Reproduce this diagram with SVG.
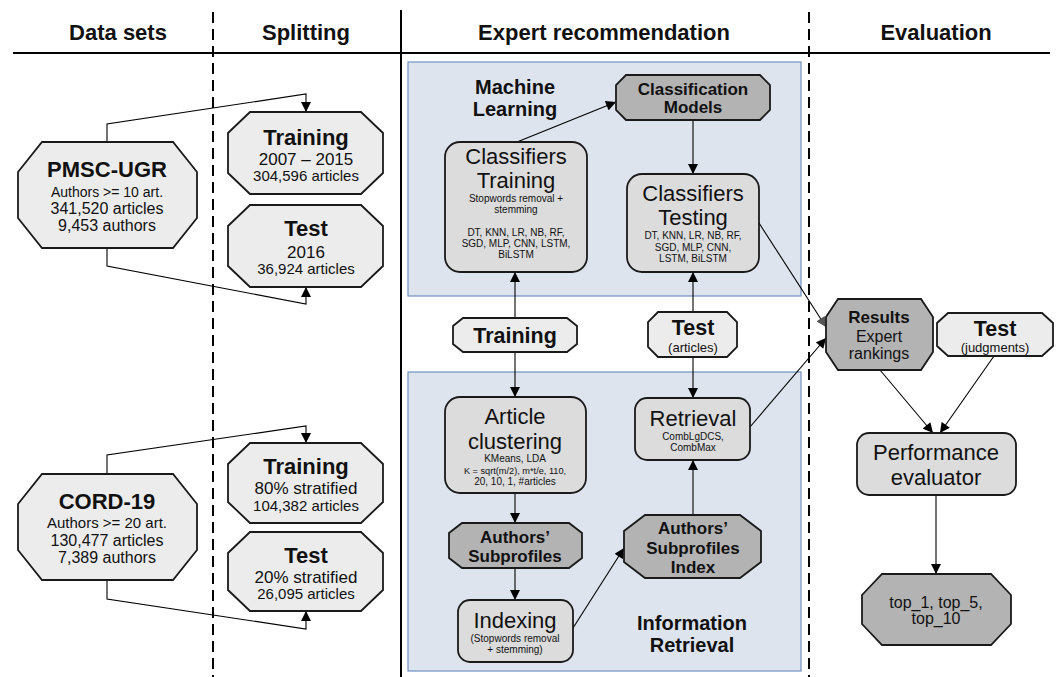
<svg xmlns="http://www.w3.org/2000/svg" width="1062" height="677" viewBox="0 0 1062 677">
  <style>
    text { font-family: "Liberation Sans", Arial, sans-serif; fill: #111; text-anchor: middle; }
    .hdr { font-size: 22px; font-weight: bold; }
    .b22 { font-size: 22px; font-weight: bold; }
    .b21 { font-size: 21.5px; font-weight: bold; }
    .b20 { font-size: 20px; font-weight: bold; }
    .b17 { font-size: 17px; font-weight: bold; }
    .r22 { font-size: 22px; }
    .r17 { font-size: 17px; }
    .r16 { font-size: 16px; }
    .r15 { font-size: 15px; }
    .r14 { font-size: 14px; }
    .r13 { font-size: 13px; }
    .r10 { font-size: 10px; }
    .light { fill: #ececec; stroke: #1a1a1a; stroke-width: 1.8; }
    .dark { fill: #b3b3b3; stroke: #1a1a1a; stroke-width: 1.8; }
    .box { fill: #dcdcdc; stroke: #1a1a1a; stroke-width: 1.8; }
    .panel { fill: #dde4ee; stroke: #7092c2; stroke-width: 1.2; }
    .edge { fill: none; stroke: #000; stroke-width: 1.1; }
    .sep { stroke: #000; stroke-width: 2; fill: none; }
    .dash { stroke: #000; stroke-width: 2; stroke-dasharray: 11 6; fill: none; }
  </style>
  <defs>
    <marker id="arrow" viewBox="0 0 10 10" refX="10" refY="5" markerWidth="11" markerHeight="10" markerUnits="userSpaceOnUse" orient="auto">
      <path d="M0,0 L10,5 L0,10 z" fill="#000"/>
    </marker>
    <marker id="arrowGray" viewBox="0 0 10 10" refX="10" refY="5" markerWidth="11" markerHeight="10" markerUnits="userSpaceOnUse" orient="auto">
      <path d="M0,0 L10,5 L0,10 z" fill="#555"/>
    </marker>
  </defs>

  <!-- column frame -->
  <g id="frame">
    <line class="sep" x1="13" y1="53" x2="1050" y2="53"/>
    <line class="dash" x1="213" y1="12" x2="213" y2="677"/>
    <line class="sep" x1="401" y1="10" x2="401" y2="677"/>
    <line class="dash" x1="809" y1="12" x2="809" y2="677"/>
    <text class="hdr" x="118" y="40">Data sets</text>
    <text class="hdr" x="306" y="40">Splitting</text>
    <text class="hdr" x="604" y="40">Expert recommendation</text>
    <text class="hdr" x="936" y="40">Evaluation</text>
  </g>

  <!-- background panels -->
  <g id="panel-ml">
    <rect class="panel" x="408" y="62" width="393" height="234"/>
    <text class="b20" x="515" y="94">Machine</text>
    <text class="b20" x="515" y="116">Learning</text>
  </g>
  <g id="panel-ir">
    <rect class="panel" x="408" y="372" width="393" height="299"/>
    <text class="b20" x="692" y="630">Information</text>
    <text class="b20" x="692" y="652">Retrieval</text>
  </g>

  <!-- connectors -->
  <g id="connectors">
    <polyline class="edge" points="107,142 107,124 306,94 306,112" marker-end="url(#arrow)"/>
    <polyline class="edge" points="107,248 107,266 306,304 306,287" marker-end="url(#arrow)"/>
    <polyline class="edge" points="107,474 107,455 306,426 306,443" marker-end="url(#arrow)"/>
    <polyline class="edge" points="107,580 107,599 306,629 306,611" marker-end="url(#arrow)"/>
    <line class="edge" x1="517" y1="142" x2="616" y2="102" marker-end="url(#arrow)"/>
    <line class="edge" x1="693" y1="120" x2="693" y2="174" marker-end="url(#arrow)"/>
    <line class="edge" x1="515" y1="318" x2="515" y2="272" marker-end="url(#arrow)"/>
    <line class="edge" x1="515" y1="352" x2="515" y2="397" marker-end="url(#arrow)"/>
    <line class="edge" x1="693" y1="312" x2="693" y2="272" marker-end="url(#arrow)"/>
    <line class="edge" x1="693" y1="357" x2="693" y2="398" marker-end="url(#arrow)"/>
    <line class="edge" x1="515" y1="493" x2="515" y2="523" marker-end="url(#arrow)"/>
    <line class="edge" x1="515" y1="568" x2="515" y2="600" marker-end="url(#arrow)"/>
    <line class="edge" x1="573" y1="628" x2="624" y2="548" marker-end="url(#arrow)"/>
    <line class="edge" x1="693" y1="515" x2="693" y2="460" marker-end="url(#arrow)"/>
    <line class="edge" x1="750" y1="427" x2="826" y2="338" marker-end="url(#arrow)"/>
    <line class="edge" x1="759" y1="223" x2="826" y2="327" stroke="#444" marker-end="url(#arrowGray)"/>
    <line class="edge" x1="880" y1="370" x2="933" y2="433" marker-end="url(#arrow)"/>
    <line class="edge" x1="994" y1="356" x2="940" y2="433" marker-end="url(#arrow)"/>
    <line class="edge" x1="936" y1="495" x2="936" y2="574" marker-end="url(#arrow)"/>
  </g>

  <!-- data sets -->
  <g id="pmsc-ugr">
    <polygon class="light" points="42,142 173,142 197,172 197,218 173,248 42,248 18,218 18,172"/>
    <text class="b22" x="107" y="177">PMSC-UGR</text>
    <text class="r14" x="107" y="197">Authors &gt;= 10 art.</text>
    <text class="r16" x="107" y="214">341,520 articles</text>
    <text class="r16" x="107" y="231">9,453 authors</text>
  </g>
  <g id="cord-19">
    <polygon class="light" points="42,474 173,474 197,504 197,550 173,580 42,580 18,550 18,504"/>
    <text class="b22" x="107" y="509">CORD-19</text>
    <text class="r15" x="107" y="528">Authors &gt;= 20 art.</text>
    <text class="r16" x="107" y="546">130,477 articles</text>
    <text class="r16" x="107" y="563">7,389 authors</text>
  </g>

  <!-- splits -->
  <g id="pmsc-training">
    <polygon class="light" points="250,112 361,112 383,133 383,173 361,194 250,194 228,173 228,133"/>
    <text class="b22" x="306" y="145">Training</text>
    <text class="r17" x="306" y="165">2007 – 2015</text>
    <text class="r15" x="306" y="181">304,596 articles</text>
  </g>
  <g id="pmsc-test">
    <polygon class="light" points="250,205 361,205 383,226 383,266 361,287 250,287 228,266 228,226"/>
    <text class="b22" x="306" y="236">Test</text>
    <text class="r17" x="306" y="258">2016</text>
    <text class="r15" x="306" y="274">36,924 articles</text>
  </g>
  <g id="cord-training">
    <polygon class="light" points="250,443 361,443 383,464 383,502 361,523 250,523 228,502 228,464"/>
    <text class="b22" x="306" y="474">Training</text>
    <text class="r17" x="306" y="494">80% stratified</text>
    <text class="r15" x="306" y="511">104,382 articles</text>
  </g>
  <g id="cord-test">
    <polygon class="light" points="250,532 361,532 383,553 383,590 361,611 250,611 228,590 228,553"/>
    <text class="b22" x="306" y="563">Test</text>
    <text class="r17" x="306" y="583">20% stratified</text>
    <text class="r15" x="306" y="599">26,095 articles</text>
  </g>

  <!-- machine learning -->
  <g id="classification-models">
    <polygon class="dark" points="626,75 760,75 770,85 770,110 760,120 626,120 616,110 616,85"/>
    <text class="b17" x="693" y="95">Classification</text>
    <text class="b17" x="693" y="113">Models</text>
  </g>
  <g id="classifiers-training">
    <rect class="box" x="445" y="142" width="142" height="130" rx="15"/>
    <text class="r22" x="516" y="164">Classifiers</text>
    <text class="r22" x="516" y="188">Training</text>
    <text class="r10" x="516" y="202">Stopwords removal +</text>
    <text class="r10" x="516" y="213">stemming</text>
    <text class="r10" x="516" y="236">DT, KNN, LR, NB, RF,</text>
    <text class="r10" x="516" y="247">SGD, MLP, CNN, LSTM,</text>
    <text class="r10" x="516" y="258">BiLSTM</text>
  </g>
  <g id="classifiers-testing">
    <rect class="box" x="627" y="174" width="132" height="98" rx="15"/>
    <text class="r22" x="693" y="201">Classifiers</text>
    <text class="r22" x="693" y="225">Testing</text>
    <text class="r10" x="693" y="239">DT, KNN, LR, NB, RF,</text>
    <text class="r10" x="693" y="251">SGD, MLP, CNN,</text>
    <text class="r10" x="693" y="262">LSTM, BiLSTM</text>
  </g>

  <!-- inputs -->
  <g id="training-input">
    <polygon class="light" points="463,318 567,318 577,326 577,344 567,352 463,352 453,344 453,326"/>
    <text class="b21" x="515" y="343">Training</text>
  </g>
  <g id="test-articles">
    <polygon class="light" points="658,312 727,312 737,322 737,347 727,357 658,357 648,347 648,322"/>
    <text class="b21" x="693" y="335">Test</text>
    <text class="r13" x="693" y="352">(articles)</text>
  </g>

  <!-- information retrieval -->
  <g id="article-clustering">
    <rect class="box" x="445" y="397" width="141" height="96" rx="15"/>
    <text class="r22" x="515" y="424">Article</text>
    <text class="r22" x="515" y="449">clustering</text>
    <text class="r10" x="515" y="462">KMeans, LDA</text>
    <text class="r10" x="515" y="474" style="font-size:9.2px">K = sqrt(m/2), m*t/e, 110,</text>
    <text class="r10" x="515" y="485">20, 10, 1, #articles</text>
  </g>
  <g id="authors-subprofiles">
    <polygon class="dark" points="462,523 569,523 582,533 582,558 569,568 462,568 449,558 449,533"/>
    <text class="b17" x="515" y="543">Authors’</text>
    <text class="b17" x="515" y="562">Subprofiles</text>
  </g>
  <g id="indexing">
    <rect class="box" x="458" y="600" width="115" height="62" rx="12"/>
    <text class="r22" x="515" y="628">Indexing</text>
    <text class="r10" x="515" y="642">(Stopwords removal</text>
    <text class="r10" x="515" y="653">+ stemming)</text>
  </g>
  <g id="subprofiles-index">
    <polygon class="dark" points="645,515 740,515 761,531 761,562 740,578 645,578 624,562 624,531"/>
    <text class="b17" x="693" y="534">Authors’</text>
    <text class="b17" x="693" y="554">Subprofiles</text>
    <text class="b17" x="693" y="573">Index</text>
  </g>
  <g id="retrieval">
    <rect class="box" x="635" y="398" width="115" height="62" rx="12"/>
    <text class="r22" x="693" y="426">Retrieval</text>
    <text class="r10" x="693" y="440">CombLgDCS,</text>
    <text class="r10" x="693" y="451">CombMax</text>
  </g>

  <!-- evaluation -->
  <g id="results">
    <polygon class="dark" points="838,299 921,299 933,317 933,352 921,370 838,370 826,352 826,317"/>
    <text class="b17" x="879" y="323">Results</text>
    <text class="r16" x="879" y="342">Expert</text>
    <text class="r16" x="879" y="359">rankings</text>
  </g>
  <g id="test-judgments">
    <polygon class="light" points="948,313 1042,313 1053,323 1053,346 1042,356 948,356 937,346 937,323"/>
    <text class="b21" x="995" y="336">Test</text>
    <text class="r13" x="995" y="352">(judgments)</text>
  </g>
  <g id="performance-evaluator">
    <rect class="box" x="857" y="433" width="159" height="62" rx="12"/>
    <text class="r22" x="936" y="460">Performance</text>
    <text class="r22" x="936" y="485">evaluator</text>
  </g>
  <g id="metrics">
    <polygon class="dark" points="882,574 991,574 1011,595 1011,624 991,645 882,645 862,624 862,595"/>
    <text class="r16" x="936" y="608">top_1, top_5,</text>
    <text class="r16" x="936" y="624">top_10</text>
  </g>
</svg>
